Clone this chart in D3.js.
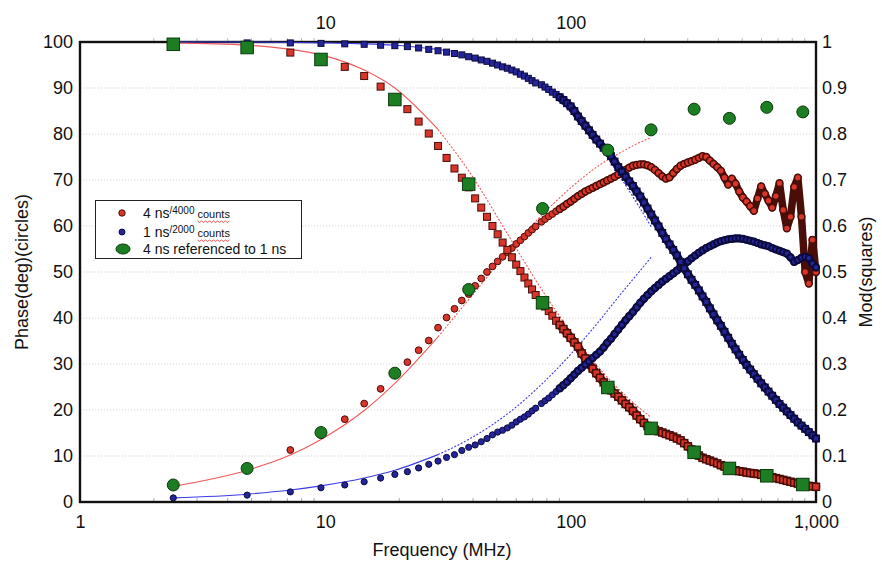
<!DOCTYPE html>
<html><head><meta charset="utf-8">
<script src="https://cdn.jsdelivr.net/npm/d3@7"></script>
<style>
body{margin:0;background:#fff;}
svg{display:block;font-family:"Liberation Sans",Arial,Helvetica,sans-serif;}
</style>
</head><body>
<svg id="c" width="882" height="565"></svg>
<script>
// ---------- DATA ----------
// Frequencies (MHz): harmonics of 2.4 MHz at low end, sampled along the dense band above ~75 MHz
const freqs = [2.4,4.8,7.2,9.6,12,14.4,16.8,19.2,21.6,24,26.4,28.8,31.2,33.6,36,38.4,40.8,43.2,45.6,48,50.4,52.8,55.2,57.6,60,62.4,64.8,67.2,69.6,72,
  76,78.6,81.4,84.2,87.2,90.2,93.4,96.6,100,103.5,107.1,110.9,114.8,118.8,122.9,127.2,131.7,136.3,141,146,151,156.3,161.8,167.5,173.3,179.4,185.7,192.2,198.9,205.8,
  213,220.5,228.2,236.2,244.4,253,261.9,271,280.5,290.3,300.5,311,321.9,333.1,344.8,356.9,369.4,382.3,395.7,409.5,423.8,438.6,454,469.9,486.3,503.3,520.9,539.2,558.1,577.6,
  597.8,618.7,640.4,662.8,686,710,734.9,760.6,787.2,814.8,843.3,872.8,903.4,935,967.7,1000];

// 4 ns / 4000 counts : phase (deg, circles) and modulation (squares)
const phase4ns = [3.6,7.2,11.3,14.6,18.0,21.4,24.6,27.6,30.4,33.0,35.1,37.9,40.1,42.0,43.8,45.2,47.0,48.6,50.0,51.2,52.3,53.3,54.3,55.2,56.1,56.9,57.7,58.5,59.2,59.9,
  60.9,61.5,62.1,62.6,63.2,63.7,64.2,64.8,65.3,65.9,66.5,67.0,67.5,67.9,68.3,68.7,69.1,69.5,69.9,70.3,70.7,71.2,71.7,72.2,72.7,73.1,73.3,73.4,73.4,73.2,
  72.8,72.2,71.5,70.8,70.3,70.6,71.5,72.4,73.1,73.5,73.8,74.1,74.4,74.8,75.2,75.0,74.2,73.5,72.8,72.0,70.5,69.0,70.3,69.2,67.5,66.2,65.3,64.3,63.3,66.0,
  68.6,67.0,65.5,64.0,66.5,69.3,63.5,59.5,62.0,68.5,70.5,62.0,50.0,47.5,57.0,50.0];
const mod4ns = [0.996,0.990,0.977,0.962,0.946,0.926,0.903,0.878,0.854,0.827,0.801,0.774,0.748,0.725,0.705,0.684,0.660,0.640,0.620,0.600,0.582,0.564,0.548,0.532,0.516,0.502,0.488,0.475,0.462,0.450,
  0.437,0.425,0.415,0.405,0.394,0.385,0.376,0.367,0.357,0.347,0.338,0.323,0.312,0.300,0.290,0.280,0.270,0.260,0.250,0.243,0.236,0.229,0.221,0.213,0.206,0.198,0.188,0.180,0.172,0.165,
  0.160,0.157,0.154,0.151,0.148,0.145,0.142,0.138,0.134,0.128,0.121,0.114,0.107,0.101,0.096,0.093,0.090,0.087,0.084,0.080,0.077,0.074,0.071,0.069,0.067,0.066,0.064,0.063,0.062,0.061,
  0.059,0.057,0.056,0.054,0.052,0.050,0.048,0.046,0.044,0.042,0.040,0.038,0.036,0.035,0.034,0.033];

// 1 ns / 2000 counts
const phase1ns = [0.9,1.5,2.2,3.1,3.7,4.4,5.2,6.0,6.6,7.4,8.2,8.9,9.7,10.3,11.2,11.9,12.4,13.1,13.8,14.6,15.2,15.6,16.1,16.7,17.4,18.0,18.5,19.1,19.8,20.4,
  21.4,22.0,22.6,23.3,24.0,24.7,25.4,26.1,26.9,27.7,28.5,29.2,29.9,30.6,31.3,32.0,32.7,33.6,34.6,35.5,36.5,37.5,38.5,39.5,40.4,41.3,42.3,43.3,44.2,45.0,
  45.8,46.5,47.2,47.9,48.5,49.1,49.7,50.3,51.0,51.6,52.3,53.0,53.6,54.2,54.7,55.2,55.6,56.0,56.4,56.7,56.9,57.1,57.2,57.3,57.3,57.2,57.0,56.8,56.6,56.3,
  56.0,55.8,55.6,55.2,54.9,54.6,54.3,54.0,53.2,52.2,52.6,53.1,53.3,53.0,51.8,51.0];
const mod1ns = [0.999,0.998,0.998,0.997,0.996,0.995,0.993,0.992,0.990,0.987,0.984,0.981,0.978,0.975,0.972,0.968,0.965,0.961,0.958,0.954,0.950,0.946,0.943,0.939,0.935,0.930,0.926,0.921,0.916,0.911,
  0.907,0.902,0.897,0.891,0.886,0.880,0.874,0.867,0.860,0.850,0.838,0.828,0.818,0.808,0.798,0.788,0.779,0.770,0.762,0.752,0.740,0.728,0.718,0.707,0.697,0.687,0.675,0.664,0.651,0.638,
  0.625,0.612,0.599,0.585,0.572,0.560,0.548,0.536,0.522,0.508,0.495,0.483,0.472,0.460,0.447,0.435,0.421,0.408,0.395,0.383,0.370,0.357,0.344,0.332,0.320,0.309,0.298,0.288,0.278,0.268,
  0.258,0.249,0.240,0.231,0.222,0.213,0.205,0.197,0.189,0.181,0.173,0.166,0.159,0.152,0.145,0.138];

// 4 ns referenced to 1 ns (green)
const refFreqs = [2.4,4.8,9.6,19.2,38.4,76.8,141.7,212.7,318.5,443.6,630,883.6];
const refPhase = [3.7,7.3,15.1,28.0,46.2,63.8,76.5,80.9,85.4,83.4,85.8,84.8];
const refMod   = [0.995,0.988,0.962,0.875,0.691,0.433,0.249,0.160,0.108,0.073,0.057,0.038];

// Thin fitted curves
const fitFreqs  = [2.4,4.8,7.2,9.6,14.4,19.2,28.8,38.4,57.6,76.8,100,130,160,190,213];
const fitPhase4 = [3.4,6.9,10.2,13.6,19.9,25.8,35.9,44.0,55.3,62.5,68.3,73.1,76.0,78.1,79.2];
const fitMod4   = [0.998,0.993,0.984,0.972,0.939,0.900,0.810,0.720,0.567,0.459,0.370,0.292,0.241,0.205,0.184];
const fitPhase1 = [0.9,1.7,2.6,3.5,5.2,6.9,10.3,13.6,19.9,25.8,32.1,39.2,45.2,50.0,53.2];
const fitMod1   = [1.0,1.0,0.999,0.998,0.996,0.993,0.984,0.972,0.940,0.900,0.847,0.775,0.705,0.642,0.598];
const fitSolidMax = 30; // MHz: solid up to here, dotted beyond
const denseFrom = 90;   // MHz: above this the markers merge into a continuous band

// Axis ticks
const xTicks = [1,10,100,1000];
const topTicks = [10,100];
const phaseTicks = [0,10,20,30,40,50,60,70,80,90,100];
const modTicks = [0,0.1,0.2,0.3,0.4,0.5,0.6,0.7,0.8,0.9,1];
const minorTicks = [2,3,4,5,6,7,8,9,20,30,40,50,60,70,80,90,200,300,400,500,600,700,800,900];

// ---------- CHART ----------
const svg = d3.select("#c");
const L = 80, R = 816, T = 42, B = 502;
const x = d3.scaleLog().domain([1,1000]).range([L,R]);
const yL = d3.scaleLinear().domain([0,100]).range([B,T]);
const yR = d3.scaleLinear().domain([0,1]).range([B,T]);

// faint dotted grid
svg.append("g").selectAll("line").data(phaseTicks.filter(d=>d>0 && d<100)).join("line")
  .attr("x1",L).attr("x2",R).attr("y1",d=>yL(d)).attr("y2",d=>yL(d))
  .attr("stroke","#d4d4d4").attr("stroke-width",1.2).attr("stroke-dasharray","1.2,1.8");

// minor ticks (inside)
svg.append("g").selectAll("line").data(minorTicks).join("line")
  .attr("x1",d=>x(d)).attr("x2",d=>x(d)).attr("y1",B).attr("y2",B-4)
  .attr("stroke","#aaa").attr("stroke-width",1);
svg.append("g").selectAll("line").data(minorTicks).join("line")
  .attr("x1",d=>x(d)).attr("x2",d=>x(d)).attr("y1",T).attr("y2",T-4)
  .attr("stroke","#bbb").attr("stroke-width",1);

// frame
svg.append("rect").attr("x",L).attr("y",T).attr("width",R-L).attr("height",B-T)
  .attr("fill","none").attr("stroke","#111").attr("stroke-width",2.4);

// axes
const fs = "18px";
const gB = svg.append("g").attr("transform",`translate(0,${B})`)
  .call(d3.axisBottom(x).tickValues(xTicks).tickFormat(d3.format(",")).tickSize(0).tickPadding(13));
const gT = svg.append("g").attr("transform",`translate(0,${T})`)
  .call(d3.axisTop(x).tickValues(topTicks).tickFormat(d3.format(",")).tickSize(0).tickPadding(13));
const gL = svg.append("g").attr("transform",`translate(${L},0)`)
  .call(d3.axisLeft(yL).tickValues(phaseTicks).tickSize(0).tickPadding(7));
const gR = svg.append("g").attr("transform",`translate(${R},0)`)
  .call(d3.axisRight(yR).tickValues(modTicks).tickFormat(d=>d===0?"0":d===1?"1":d.toFixed(1)).tickSize(0).tickPadding(6));
[gB,gT,gL,gR].forEach(g=>{
  g.select(".domain").remove();
  g.selectAll("text").attr("font-size",fs).attr("fill","#111")
   .attr("font-family","'Liberation Sans',Arial,sans-serif");
});

// titles
svg.append("text").attr("x",442).attr("y",556).attr("text-anchor","middle")
  .attr("font-size",fs).attr("fill","#111").text("Frequency (MHz)");
svg.append("text").attr("transform","translate(28,272) rotate(-90)").attr("text-anchor","middle")
  .attr("font-size",fs).attr("fill","#111").text("Phase(deg)(circles)");
svg.append("text").attr("transform","translate(872,272) rotate(-90)").attr("text-anchor","middle")
  .attr("font-size",fs).attr("fill","#111").text("Mod(squares)");

// fit lines
function fitLine(vals, y, color){
  const pts = fitFreqs.map((f,i)=>({f, v: vals[i]}));
  const line = d3.line().x(d=>x(d.f)).y(d=>y(d.v)).curve(d3.curveMonotoneX);
  const solid = pts.filter(d=>d.f<=fitSolidMax);
  const dotted = pts.filter(d=>d.f>=solid[solid.length-1].f);
  svg.append("path").attr("d",line(solid)).attr("fill","none").attr("stroke",color).attr("stroke-width",1.1);
  svg.append("path").attr("d",line(dotted)).attr("fill","none").attr("stroke",color).attr("stroke-width",1.1)
    .attr("stroke-dasharray","2,1.6");
}
fitLine(fitPhase4, yL, "#f05a5a");
fitLine(fitMod4, yR, "#f05a5a");
fitLine(fitPhase1, yL, "#3c3ce6");
fitLine(fitMod1, yR, "#3c3ce6");

// marker helpers
const RED = {fill:"#d8352b", stroke:"#4a0e08", band:"#4a0e08", dw:1.5};
const BLUE = {fill:"#25259a", stroke:"#0b0b3e", band:"#0d0d3a", dw:1.9};
const GREEN = {fill:"#1d7d22", stroke:"#0a3a0c", dw:1};
function band(vals, y, w, c){
  const pts = freqs.map((f,i)=>({f,v:vals[i]})).filter(d=>d.f>=denseFrom);
  svg.append("path").attr("d", d3.line().x(d=>x(d.f)).y(d=>y(d.v))(pts))
    .attr("fill","none").attr("stroke",c.band).attr("stroke-width",w)
    .attr("stroke-linejoin","round").attr("stroke-linecap","round");
}
const sw = (f,c)=> f>=denseFrom ? c.dw : 1;
function circles(fx, vals, y, r, c){
  svg.append("g").selectAll("circle").data(fx.map((f,i)=>({f,v:vals[i]}))).join("circle")
    .attr("cx",d=>x(d.f)).attr("cy",d=>y(d.v)).attr("r",r)
    .attr("fill",c.fill).attr("stroke",c.stroke).attr("stroke-width",d=>sw(d.f,c));
}
function squares(fx, vals, y, s, c){
  svg.append("g").selectAll("rect").data(fx.map((f,i)=>({f,v:vals[i]}))).join("rect")
    .attr("x",d=>x(d.f)-s/2).attr("y",d=>y(d.v)-s/2).attr("width",s).attr("height",s)
    .attr("fill",c.fill).attr("stroke",c.stroke).attr("stroke-width",d=>sw(d.f,c));
}
band(phase4ns, yL, 7.5, RED);
circles(freqs, phase4ns, yL, 3.4, RED);
band(mod4ns, yR, 8.5, RED);
squares(freqs, mod4ns, yR, 7, RED);
band(phase1ns, yL, 7.5, BLUE);
circles(freqs, phase1ns, yL, 3.1, BLUE);
band(mod1ns, yR, 8, BLUE);
squares(freqs, mod1ns, yR, 6, BLUE);
circles(refFreqs, refPhase, yL, 6, GREEN);
squares(refFreqs, refMod, yR, 12.5, GREEN);

// legend
const lg = svg.append("g");
lg.append("rect").attr("x",95.5).attr("y",200.5).attr("width",206).attr("height",58)
  .attr("fill","#fff").attr("stroke","#222").attr("stroke-width",1);
lg.append("circle").attr("cx",122).attr("cy",213).attr("r",3.2).attr("fill",RED.fill).attr("stroke",RED.stroke);
lg.append("circle").attr("cx",122).attr("cy",232).attr("r",3).attr("fill",BLUE.fill).attr("stroke",BLUE.stroke);
lg.append("ellipse").attr("cx",123).attr("cy",249).attr("rx",7).attr("ry",5).attr("fill",GREEN.fill).attr("stroke",GREEN.stroke);
const legendRows = [
  {main:"4 ns", sup:"/4000", small:"counts", y:218},
  {main:"1 ns", sup:"/2000", small:"counts", y:237}
];
legendRows.forEach(r=>{
  const t1 = lg.append("text").attr("x",143).attr("y",r.y).attr("font-size","14px").attr("fill","#111").text(r.main);
  const w1 = t1.node().getComputedTextLength();
  const t2 = lg.append("text").attr("x",143+w1).attr("y",r.y-4).attr("font-size","10px").attr("fill","#111").text(r.sup);
  const w2 = t2.node().getComputedTextLength();
  const cx0 = 143+w1+w2+3;
  const t3 = lg.append("text").attr("x",cx0).attr("y",r.y).attr("font-size","11px").attr("fill","#111").text(r.small);
  const w3 = t3.node().getComputedTextLength();
  const zz = [];
  for(let k=0;k<=w3;k+=2) zz.push([cx0+k, r.y+3+(k/2%2?1.4:0)]);
  lg.append("path").attr("d",d3.line()(zz)).attr("fill","none").attr("stroke","#e03030").attr("stroke-width",0.8);
});
lg.append("text").attr("x",143).attr("y",254).attr("font-size","14px").attr("fill","#111").text("4 ns referenced to 1 ns");
</script>
</body></html>
